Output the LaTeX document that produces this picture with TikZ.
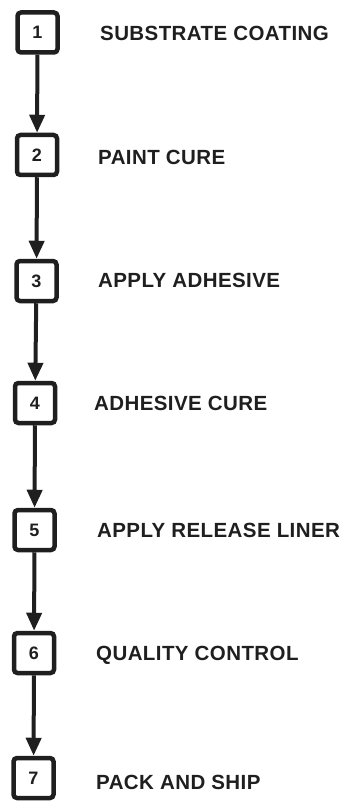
\documentclass[tikz,border=0pt]{standalone}
\usepackage{fontspec}
\setmainfont{Liberation Sans}
\usetikzlibrary{arrows.meta}
\begin{document}
\begin{tikzpicture}[x=1pt,y=-1pt,
  stepbox/.style={draw=black!88,line width=4.5pt,rounded corners=3.5pt,minimum width=40pt,minimum height=40pt,inner sep=0pt,font=\fontsize{18}{18}\selectfont\bfseries,text=black!88,fill=white},
  steplabel/.style={anchor=west,inner sep=0pt,font=\fontsize{20.5}{20.5}\selectfont\bfseries\addfontfeatures{LetterSpace=2},text=black!88},
  flow/.style={draw=black!88,line width=4pt,-{Triangle[length=18pt,width=15pt]}}]
\useasboundingbox (0,0) rectangle (345,802);
\node[stepbox] (b1) at (37.5,32.5) {1};
\node[stepbox] (b2) at (37,155) {2};
\node[stepbox] (b3) at (36.5,281) {3};
\node[stepbox] (b4) at (35,403) {4};
\node[stepbox] (b5) at (34.5,530) {5};
\node[stepbox] (b6) at (34,653) {6};
\node[stepbox] (b7) at (33.5,778) {7};
\node[steplabel] (t1) at (100,33) {SUBSTRATE COATING};
\node[steplabel] (t2) at (98,157) {PAINT CURE};
\node[steplabel] (t3) at (98,280) {APPLY ADHESIVE};
\node[steplabel] (t4) at (94,403) {ADHESIVE CURE};
\node[steplabel] (t5) at (97,530) {APPLY RELEASE LINER};
\node[steplabel] (t6) at (96,655) {QUALITY CONTROL};
\node[steplabel] (t7) at (96,782) {PACK AND SHIP};
\draw[flow] (b1) -- (b2);
\draw[flow] (b2) -- (b3);
\draw[flow] (b3) -- (b4);
\draw[flow] (b4) -- (b5);
\draw[flow] (b5) -- (b6);
\draw[flow] (b6) -- (b7);
\end{tikzpicture}
\end{document}
